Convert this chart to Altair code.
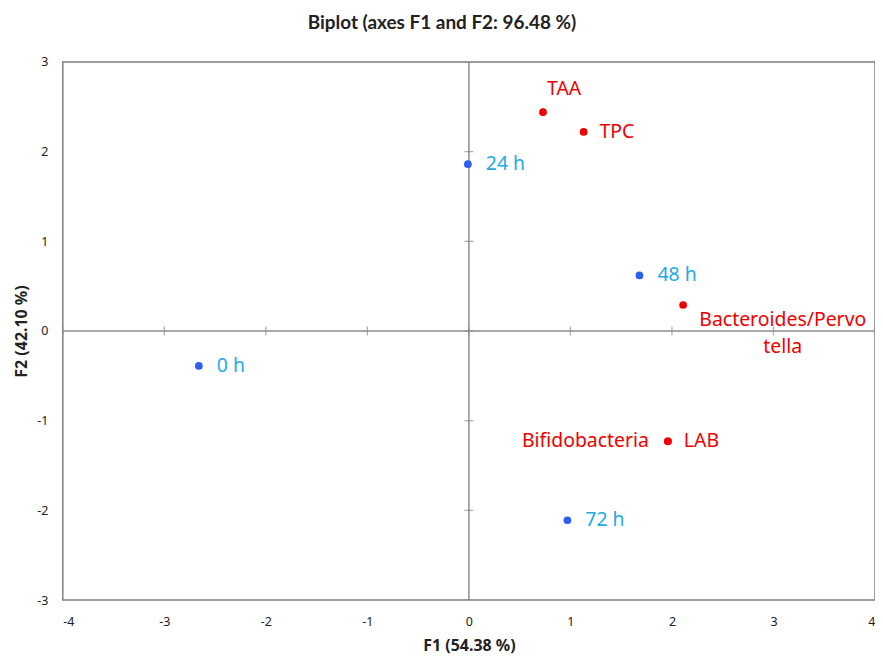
import altair as alt
import pandas as pd

# observations (sampling times)
obs_labels = ["0 h", "24 h", "48 h", "72 h"]
obs_f1 = [-2.66, -0.01, 1.68, 0.97]
obs_f2 = [-0.39, 1.86, 0.62, -2.11]

# variables
var_labels = ["TAA", "TPC", "Bacteroides/Pervo\ntella", "LAB", "Bifidobacteria"]
var_f1 = [0.73, 1.13, 2.11, 1.96, 1.96]
var_f2 = [2.44, 2.22, 0.29, -1.23, -1.23]

x_ticks = [-4, -3, -2, -1, 0, 1, 2, 3, 4]
y_ticks = [-3, -2, -1, 0, 1, 2, 3]

obs = pd.DataFrame({"F1": obs_f1, "F2": obs_f2, "label": obs_labels})
var = pd.DataFrame({"F1": var_f1, "F2": var_f2, "label": var_labels})
xt = pd.DataFrame({"F1": x_ticks, "F2": [0] * len(x_ticks)})
yt = pd.DataFrame({"F2": y_ticks, "F1": [0] * len(y_ticks)})
zero = pd.DataFrame({"F1": [0], "F2": [0]})

FONT = "Noto Sans"
BLUE_PT = "#2f5ff0"
BLUE_TX = "#22aae6"
RED = "#f00000"
GREY = "#8c8c8c"

xs = alt.Scale(domain=[-4, 4], nice=False, zero=False)
ys = alt.Scale(domain=[-3, 3], nice=False, zero=False)

AX = alt.Axis(
    values=x_ticks, title="F1 (54.38 %)", grid=False, ticks=False, domain=False,
    labelExpr="toString(datum.value)",
    labelPadding=16, titlePadding=9, labelFont=FONT, labelFontSize=12.5,
    labelColor="#222222", titleFont=FONT, titleFontSize=16, titleFontWeight="bold",
    titleColor="#222222")
AY = alt.Axis(
    values=y_ticks, title="F2 (42.10 %)", grid=False, ticks=False, domain=False,
    labelExpr="toString(datum.value)",
    labelPadding=15, titlePadding=7, labelFont=FONT, labelFontSize=12.5,
    labelColor="#222222", titleFont=FONT, titleFontSize=16, titleFontWeight="bold",
    titleColor="#222222")
X = alt.X("F1:Q", scale=xs, axis=AX)
Y = alt.Y("F2:Q", scale=ys, axis=AY)

hline = alt.Chart(zero).mark_rule(color=GREY, strokeWidth=1.5).encode(y=Y)
vline = alt.Chart(zero).mark_rule(color=GREY, strokeWidth=1.5).encode(x=X)

xticks = alt.Chart(xt).mark_tick(color=GREY, orient="vertical", size=9, thickness=1.3,
                                 clip=True).encode(x=X, y=Y)
yticks = alt.Chart(yt).mark_tick(color=GREY, orient="horizontal", size=9, thickness=1.3,
                                 clip=True).encode(x=X, y=Y)

obs_pts = alt.Chart(obs).mark_circle(size=60, opacity=1, color=BLUE_PT).encode(x=X, y=Y)
var_pts = alt.Chart(var).mark_circle(size=60, opacity=1, color=RED).encode(x=X, y=Y)

txt = dict(font=FONT, fontSize=19.5, baseline="middle")
obs_txt = alt.Chart(obs).mark_text(align="left", dx=18, color=BLUE_TX, **txt).encode(
    x=X, y=Y, text="label:N")
var_right = alt.Chart(var).transform_filter(
    alt.FieldOneOfPredicate(field="label", oneOf=["TPC", "LAB"])
).mark_text(align="left", dx=16, color=RED, **txt).encode(x=X, y=Y, text="label:N")
var_left = alt.Chart(var).transform_filter(
    alt.FieldOneOfPredicate(field="label", oneOf=["Bifidobacteria"])
).mark_text(align="right", dx=-19, color=RED, **txt).encode(x=X, y=Y, text="label:N")
var_top = alt.Chart(var).transform_filter(
    alt.FieldOneOfPredicate(field="label", oneOf=["TAA"])
).mark_text(align="left", dx=4, dy=-23, color=RED, **txt).encode(x=X, y=Y, text="label:N")
var_wrap = alt.Chart(var).transform_filter(
    alt.FieldOneOfPredicate(field="label", oneOf=["Bacteroides/Pervo\ntella"])
).mark_text(align="center", dx=100, dy=15, lineBreak="\n", lineHeight=27,
            color=RED, **txt).encode(x=X, y=Y, text="label:N")

chart = alt.layer(
    hline, vline, xticks, yticks, obs_pts, var_pts,
    obs_txt, var_right, var_left, var_top, var_wrap
).properties(
    width=815, height=540,
    background="white",
    title=alt.TitleParams("Biplot (axes F1 and F2: 96.48 %)", font="Lato", fontSize=19,
                          fontWeight="bold", color="#222222", anchor="middle", dx=-27, offset=23),
    autosize=alt.AutoSizeParams(type="none"),
    padding={"left": 55, "top": 53, "right": 0, "bottom": 56},
).configure_view(stroke="#7f7f7f", strokeWidth=1.5)

chart.save("out.html", embed_options={"renderer": "svg", "actions": False})
